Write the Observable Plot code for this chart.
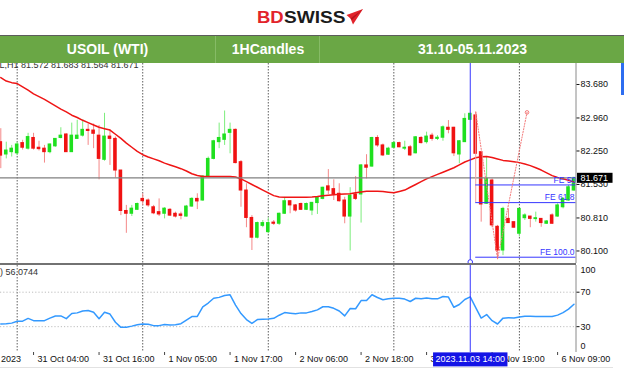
<!DOCTYPE html>
<html><head><meta charset="utf-8">
<script src="https://cdn.jsdelivr.net/npm/d3@7"></script>
<script src="https://cdn.jsdelivr.net/npm/@observablehq/plot@0.6"></script>
<style>
html,body{margin:0;padding:0;background:#fff;}
body{width:624px;height:377px;overflow:hidden;position:relative;font-family:"Liberation Sans",Arial,sans-serif;}
#logo{position:absolute;left:0;top:0;}
#banner{position:absolute;left:0;top:35px;width:624px;height:26.5px;border-top:1.5px solid #5c5c5c;background:#6aa745;color:#fff;font-weight:bold;font-size:14px;}
#banner div{position:absolute;top:0;height:26.5px;line-height:27px;text-align:center;}
#main{position:absolute;left:0;top:63px;}
#sep{position:absolute;left:0;top:263px;width:576px;height:2px;background:#727272;}
#rsi{position:absolute;left:0;top:265px;}
#bottomline{position:absolute;left:0;top:367px;width:613px;height:1px;background:#e2e2e2;}
#strip{position:absolute;left:621px;top:63px;width:3px;height:32px;background:#2d6df0;}
svg{overflow:hidden;}
</style></head>
<body>
<svg id="logo" width="624" height="35">
  <text x="257" y="23.3" font-family="Liberation Sans, Arial, sans-serif" font-weight="bold" font-size="16.5" fill="#e2232b" textLength="26.7" lengthAdjust="spacingAndGlyphs">BD</text>
  <text x="284" y="23.3" font-family="Liberation Sans, Arial, sans-serif" font-weight="bold" font-size="16.5" fill="#1b1b1b" textLength="61.5" lengthAdjust="spacingAndGlyphs">SWISS</text>
  <polygon points="346.5,15 363,9 353,24.5 350.5,18.5" fill="#e2232b"/>
  <polygon points="350.5,18.5 363,9 352,20" fill="#b5161d"/>
</svg>
<div id="banner">
  <div style="left:0;width:215px;">USOIL (WTI)</div>
  <div style="left:215px;width:104px;border-left:1px solid #86bb66;">1HCandles</div>
  <div style="left:319px;width:305px;border-left:1px solid #86bb66;">31.10-05.11.2023</div>
</div>
<div id="main"></div>
<div id="sep"></div>
<div id="rsi"></div>
<div id="bottomline"></div>
<div id="strip"></div>
<script>
// ---- data ----
const open = [82.44,82.175,82.225,82.20,82.42,82.30,82.53,82.32,82.30,82.225,
82.35,82.53,82.605,82.225,82.51,82.58,82.705,82.69,82.58,82.06,
82.56,82.51,81.83,80.96,80.90,80.985,81.22,81.185,81.04,80.935,
80.90,80.985,80.90,80.885,80.84,81.055,81.22,81.185,81.70,82.08,
82.44,82.49,82.64,82.705,82.01,81.40,80.81,80.385,80.64,80.505,
80.71,80.685,80.90,81.17,81.08,81.11,80.985,80.97,81.13,81.22,
81.49,81.43,81.33,81.185,80.84,81.315,81.315,81.94,81.915,82.53,
82.37,82.17,82.32,82.42,82.30,82.33,82.20,82.53,82.44,82.58,
82.51,82.535,82.75,82.75,82.175,82.44,82.92,83.015,82.225,81.115,
81.615,80.62,80.11,80.79,80.72,80.47,80.805,80.84,80.785,80.79,
80.685,80.865,80.84,81.04,81.185,81.40];
const high = [82.73,82.44,82.37,82.44,82.48,82.63,82.63,82.46,82.37,82.40,
82.51,82.75,82.62,82.85,82.91,82.92,82.83,82.83,82.80,83.06,
82.705,82.55,81.83,81.08,81.08,81.13,81.33,81.22,81.08,81.22,
81.03,81.01,80.935,80.935,81.08,81.245,81.33,81.72,82.12,82.48,
82.85,83.11,82.85,82.72,82.045,81.545,80.86,80.72,80.755,80.81,
80.755,80.915,81.245,81.185,81.10,81.13,81.13,81.135,81.25,81.47,
81.85,81.63,81.545,81.255,81.46,81.70,81.96,82.17,82.545,82.58,
82.40,82.33,82.46,82.44,82.46,82.37,82.56,82.56,82.655,82.63,
82.58,82.79,82.905,82.76,82.475,83.05,83.065,83.085,82.225,82.12,
81.65,80.65,81.04,81.005,80.72,81.005,80.90,80.84,80.935,80.79,
80.755,80.90,81.115,81.245,81.51,81.683];
const low = [81.87,82.08,82.12,82.15,82.27,82.27,82.27,82.25,81.99,82.19,
82.33,82.51,82.22,82.22,82.50,82.55,82.37,82.30,81.63,82.03,
81.94,81.67,80.86,80.48,80.84,80.97,81.08,81.04,80.88,80.84,
80.79,80.84,80.81,80.77,80.83,81.04,80.99,81.17,81.69,82.06,
82.30,82.37,82.19,81.975,81.04,80.60,80.11,80.36,80.60,80.47,
80.65,80.65,80.885,80.90,80.935,80.97,80.97,80.86,80.885,81.20,
81.315,81.185,81.15,80.685,80.10,81.185,80.70,81.65,81.90,82.33,
82.13,82.155,82.30,82.32,82.26,82.13,82.19,82.40,82.40,82.46,
82.475,82.46,82.62,82.13,81.975,82.44,82.905,82.18,80.72,81.10,
80.60,79.93,80.00,80.69,80.59,80.40,80.755,80.60,80.72,80.61,
80.67,80.67,80.825,81.005,81.17,81.385];
const close = [82.15,82.26,82.30,82.39,82.32,82.55,82.30,82.29,82.225,82.39,
82.51,82.58,82.225,82.58,82.58,82.705,82.68,82.62,82.08,82.56,
82.51,81.83,80.96,80.90,81.01,81.11,81.17,81.08,80.91,80.885,
81.01,80.86,80.84,80.855,81.055,81.22,81.165,81.70,82.08,82.46,
82.53,82.605,82.705,81.99,81.40,80.81,80.385,80.70,80.70,80.70,
80.685,80.90,81.17,81.08,80.97,80.985,81.11,81.135,81.245,81.46,
81.40,81.315,81.17,80.84,81.29,81.22,81.94,81.89,82.53,82.37,
82.155,82.30,82.42,82.33,82.32,82.155,82.545,82.42,82.56,82.51,
82.535,82.76,82.705,82.20,82.46,82.94,83.05,82.19,81.10,81.65,
80.65,80.11,81.005,80.70,80.60,81.005,80.865,80.79,80.805,80.70,
80.735,80.685,81.08,81.22,81.47,81.671];
const ma = [83.83,83.755,83.72,83.70,83.63,83.56,83.48,83.42,83.36,83.29,
83.22,83.15,83.09,83.02,82.97,82.91,82.86,82.81,82.76,82.73,
82.70,82.61,82.52,82.42,82.33,82.24,82.17,82.12,82.08,82.04,
81.99,81.95,81.91,81.87,81.82,81.76,81.725,81.70,81.70,81.70,
81.70,81.70,81.70,81.69,81.65,81.59,81.53,81.47,81.41,81.35,
81.29,81.26,81.256,81.256,81.256,81.256,81.256,81.26,81.27,81.29,
81.30,81.31,81.32,81.325,81.33,81.35,81.37,81.385,81.385,81.385,
81.38,81.365,81.35,81.38,81.41,81.47,81.53,81.59,81.65,81.70,
81.747,81.794,81.84,81.889,81.95,82.013,82.06,82.105,82.125,82.13,
82.11,82.08,82.048,82.033,82.02,82.0,81.97,81.936,81.89,81.84,
81.78,81.72,81.68,81.655,81.62,81.58];
const rsi = [33.2,33.5,34.1,36.2,36.4,39.6,37.0,37.0,37.0,39.9,
42.4,42.5,39.3,45.2,46.0,48.2,48.7,46.8,39.3,46.7,
44.6,35.1,29.2,29.2,30.6,32.3,33.1,32.9,31.2,31.2,
32.6,32.0,32.3,33.5,37.6,41.7,41.9,53.0,57.4,63.0,
64.0,66.2,67.0,55.1,45.2,38.2,33.8,38.2,38.6,39.0,
39.7,43.3,46.3,45.6,45.0,46.0,46.0,47.5,49.5,53.1,
53.0,51.3,48.2,42.5,51.1,50.8,60.3,60.3,67.0,63.8,
61.3,62.3,63.0,63.0,62.0,59.2,63.0,62.3,63.2,62.3,
62.3,65.0,64.3,52.5,55.7,61.5,64.6,52.2,40.0,44.0,
37.0,33.1,39.9,40.3,40.1,41.1,42.0,42.0,41.9,41.7,
41.7,41.7,43.4,46.3,50.3,56.07];
const priceTicks = [83.680, 82.960, 82.250, 81.530, 80.810, 80.100];
const rsiTicks = [70, 30];
const rsiEnds = [100, 0];
const gridBars = [3, 26, 49, 72, 95];
const timeLabelBars = [-6, 6, 18, 30, 42, 54, 66, 78, 90, 102];
const timeLabels = ["30 Oct 2023","31 Oct 04:00","31 Oct 16:00","1 Nov 05:00","1 Nov 17:00","2 Nov 06:00","2 Nov 18:00","3 Nov 07:00","3 Nov 19:00","6 Nov 09:00"];
const cursorBar = 86;
const cursorLabel = "2023.11.03 14:00";
const feLabels = ["FE 50.0", "FE 61.8", "FE 100.0"];
const fePrices = [81.52, 81.14, 79.966];
const fePointBars = [87, 91, 96.4];
const fePointPrices = [83.085, 79.93, 83.08];
const symbolText = "USOIL,H1 81.572 81.683 81.564 81.671";
const rsiText = "RSI(14) 56.0744";

// ---- build ----
const candles = open.map((o, i) => ({i, o, h: high[i], l: low[i], c: close[i]}));
const maData = ma.map((v, i) => ({i, v}));
const rsiData = rsi.map((v, i) => ({i, v}));
const fe = feLabels.map((label, k) => ({label, price: fePrices[k]}));
const fePts = fePointBars.map((b, k) => ({b, p: fePointPrices[k]}));
const lastClose = close[close.length - 1];
const lastCloseText = d3.format(".3f")(lastClose);
const X_DOMAIN = [-0.055, 105.37];
const xEnd = X_DOMAIN[1];
const FONT = "Liberation Sans, Arial, sans-serif";
const upBody = "#1fe01f", dnBody = "#f01212", upWick = "#7ced7c", dnWick = "#f48888";
const grid = {stroke: "#5f5f5f", strokeDasharray: "1.5,1.5", strokeWidth: 1};
const blue = "#3636ff";

const main = Plot.plot({
  width: 624, height: 200,
  marginLeft: 0, marginRight: 48.5, marginTop: 0, marginBottom: 0,
  x: {domain: X_DOMAIN, axis: null},
  y: {domain: [79.8306, 84.1316], axis: null},
  style: {fontFamily: FONT, fontSize: "9px", color: "#111", background: "white", overflow: "hidden"},
  marks: [
    Plot.ruleX(gridBars, grid),
    Plot.ruleX(candles, {x: "i", y1: "l", y2: "h", stroke: d => d.c >= d.o ? upWick : dnWick, strokeWidth: 1}),
    Plot.rect(candles, {x1: d => d.i - 0.33, x2: d => d.i + 0.33, y1: "o", y2: "c",
      fill: d => d.c >= d.o ? upBody : dnBody, insetTop: -0.5, insetBottom: -0.5}),
    Plot.line(maData, {x: "i", y: "v", stroke: "#ef1515", strokeWidth: 1.5}),
    Plot.ruleY([lastClose], {stroke: "#808080", strokeWidth: 1.4}),
    Plot.ruleX([fePts[0]], {x: "b", y1: "p", y2: () => fePrices[1], stroke: "#f2a2a2", strokeWidth: 1}),
    Plot.ruleY(fe, {y: "price", x1: fePointBars[0], x2: xEnd, stroke: blue, strokeWidth: 1}),
    Plot.line(fePts, {x: "b", y: "p", stroke: "#f47a7a", strokeWidth: 1, strokeDasharray: "1.2,1.6"}),
    Plot.dot([fePts[2]], {x: "b", y: "p", r: 1.8, stroke: "#f47a7a", fill: "none", strokeWidth: 1}),
    Plot.ruleX([cursorBar], {stroke: blue, strokeWidth: 1}),
    Plot.dot([cursorBar], {x: d => d, frameAnchor: "bottom", dy: -1.5, r: 2.3, stroke: blue, fill: "white", strokeWidth: 1}),
    Plot.text(fe.slice(1), {x: xEnd, y: "price", text: "label", textAnchor: "end", dx: -1.5, dy: -5, fill: blue, fontSize: 8.5}),
    Plot.text(fe.slice(0, 1), {x: xEnd, y: "price", text: "label", textAnchor: "start", dx: -22.5, dy: -5, fill: blue, fontSize: 8.5}),
    Plot.text([symbolText], {text: d => d, frameAnchor: "top-left", lineAnchor: "middle", textAnchor: "start", dx: -23, dy: 2, fill: "#333", fontSize: 9}),
    Plot.ruleX([xEnd], {stroke: "#8a8a8a", strokeWidth: 1}),
    Plot.axisY({anchor: "right", ticks: priceTicks, tickFormat: d3.format(".3f"), tickSize: 3, tickPadding: 1.5, fontSize: 9, label: null}),
    Plot.text([lastClose], {x: xEnd, y: d => d, text: () => lastCloseText, textAnchor: "start", dx: 4.5, fill: "white", fontSize: 9})
  ]
});

const rsiPlot = Plot.plot({
  width: 624, height: 112,
  marginLeft: 0, marginRight: 48.5, marginTop: 0, marginBottom: 25,
  x: {domain: X_DOMAIN, axis: null},
  y: {domain: [0, 101], axis: null},
  style: {fontFamily: FONT, fontSize: "9px", color: "#111", background: "white", overflow: "hidden"},
  marks: [
    Plot.ruleX(gridBars, grid),
    Plot.ruleY(rsiTicks, {stroke: "#bdbdbd", strokeDasharray: "1.2,2", strokeWidth: 1}),
    Plot.line(rsiData, {x: "i", y: "v", stroke: "#3399ff", strokeWidth: 1.5}),
    Plot.ruleX([cursorBar], {stroke: blue, strokeWidth: 1}),
    Plot.ruleX([xEnd], {stroke: "#8a8a8a", strokeWidth: 1}),
    Plot.axisY({anchor: "right", ticks: rsiTicks, tickSize: 3, tickPadding: 1.5, fontSize: 9, label: null}),
    Plot.text([rsiEnds[0]], {x: xEnd, y: d => d, text: d => String(d), textAnchor: "start", dx: 4.5, dy: 4.2, fontSize: 9}),
    Plot.text([rsiEnds[1]], {x: xEnd, y: d => d, text: d => String(d), textAnchor: "start", dx: 4.5, dy: -6, fontSize: 9}),
    Plot.text([rsiText], {text: d => d, frameAnchor: "top-left", lineAnchor: "middle", textAnchor: "start", dx: -28.5, dy: 6.7, fill: "#333", fontSize: 9}),
    Plot.ruleX(timeLabelBars, {x: d => d, insetTop: 87, insetBottom: -3, stroke: "#444", strokeWidth: 1}),
    Plot.text(timeLabels, {x: (d, i) => timeLabelBars[i], text: d => d, frameAnchor: "bottom", lineAnchor: "middle", textAnchor: "start", dx: 4, dy: 7, fontSize: 9}),
    Plot.text([cursorLabel], {x: cursorBar, text: d => d, frameAnchor: "bottom", lineAnchor: "middle", dy: 7, fill: "white", fontSize: 9})
  ]
});

document.getElementById("main").appendChild(main);
document.getElementById("rsi").appendChild(rsiPlot);

function boxBehind(svg, content, fill, padL, padR, h) {
  const sr = svg.getBoundingClientRect();
  svg.querySelectorAll("text").forEach(t => {
    if (t.textContent !== content) return;
    const b = t.getBoundingClientRect();
    const r = document.createElementNS("http://www.w3.org/2000/svg", "rect");
    const cy = b.top - sr.top + b.height / 2;
    r.setAttribute("x", b.left - sr.left - padL);
    r.setAttribute("width", b.width + padL + padR);
    r.setAttribute("y", cy - h / 2);
    r.setAttribute("height", h);
    r.setAttribute("fill", fill);
    let node = t;
    while (node.parentNode && node.parentNode !== svg) node = node.parentNode;
    svg.insertBefore(r, node);
  });
}
boxBehind(main, lastCloseText, "#000", 3.5, 4.5, 10);
boxBehind(rsiPlot, cursorLabel, "#1414e6", 2.5, 2.5, 14);
</script>
</body></html>
